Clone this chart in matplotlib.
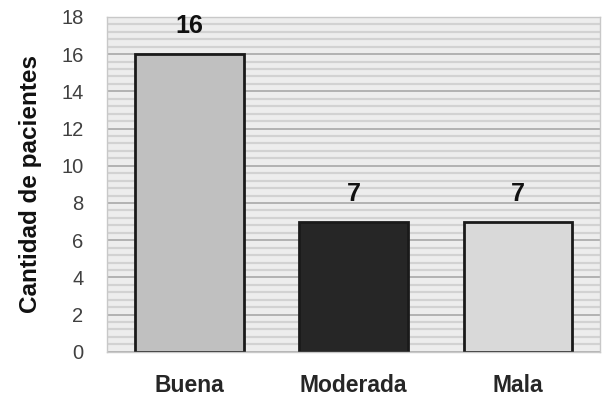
import matplotlib
matplotlib.use('Agg')
from matplotlib import pyplot as plt
from matplotlib.ticker import MultipleLocator
import numpy as np

categorias = ['Buena', 'Moderada', 'Mala']
pacientes = [16, 7, 7]
colores = ['#c0c0c0', '#262626', '#d9d9d9']

plt.rcParams['font.family'] = ['Liberation Sans', 'DejaVu Sans']

fig = plt.figure(figsize=(6.05, 4.03), dpi=100)
ax = fig.add_axes([0.177, 0.127, 0.815, 0.831])

# fondo gris rayado
ax.set_facecolor('#ededed')
ax.yaxis.set_major_locator(MultipleLocator(2))
ax.yaxis.set_minor_locator(MultipleLocator(0.4))
ax.grid(which='minor', axis='y', color='#d2d2d2', linewidth=1.6)
ax.grid(which='major', axis='y', color='#a8a8a8', linewidth=1.2)
ax.set_axisbelow(True)

x = np.arange(len(categorias))
barras = ax.bar(x, pacientes, width=0.66, color=colores,
                edgecolor='#1a1a1a', linewidth=2)

for xi, v in zip(x, pacientes):
    ax.text(xi, v + 0.85, str(v), ha='center', va='bottom',
            fontsize=18, fontweight='bold', color='#111111')

ax.set_xlim(-0.5, len(categorias) - 0.5)
ax.set_ylim(0, 18)
ax.set_xticks(x)
ax.set_xticklabels(categorias, fontsize=16.5, fontweight='bold', color='#262626')
ax.tick_params(axis='x', length=0, pad=16)
ax.tick_params(axis='y', which='both', length=0, labelsize=14.5,
               labelcolor='#404040', pad=17)
ax.set_ylabel('Cantidad de pacientes', fontsize=17.5, fontweight='bold',
              color='#111111', labelpad=14)

for lado in ['left', 'right', 'top', 'bottom']:
    ax.spines[lado].set_color('#c8c8c8')
    ax.spines[lado].set_linewidth(1)

fig.savefig('out.png', dpi=100)
